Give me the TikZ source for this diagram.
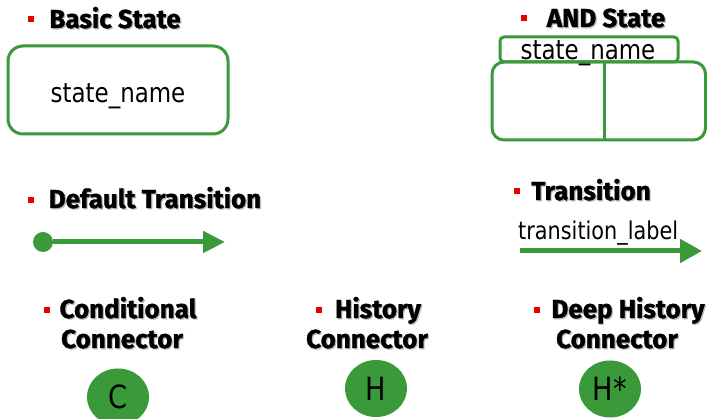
\documentclass[tikz,border=0pt]{standalone}
\usepackage{fontspec}
\usetikzlibrary{arrows.meta,shapes.geometric,calc}
\setmainfont[FakeStretch=0.85]{DejaVu Sans}
\newfontfamily\headfont[FakeBold=1.2]{Fira Sans}
\definecolor{stgreen}{RGB}{58,154,58}
\definecolor{bulletred}{RGB}{235,0,0}
\definecolor{shade}{RGB}{185,185,185}

\tikzset{
  headtext/.style={font=\headfont\bfseries\fontsize{26}{30}\selectfont, anchor=base, inner sep=0pt},
  headshade/.style={headtext, text=shade},
  bulletmark/.style={rectangle, fill=bulletred, minimum size=6.5pt, inner sep=0pt},
  statebox/.style={draw=stgreen, line width=3pt},
  bodytext/.style={font=\fontsize{27}{30}\selectfont, inner sep=0pt},
  connector/.style={ellipse, fill=stgreen, minimum width=62pt, minimum height=57pt, inner sep=0pt,
                    font=\fontsize{32}{34}\selectfont},
  flow/.style={draw=stgreen, line width=5pt},
}
% heading with a soft grey drop shadow: name, position, text
\newcommand{\headline}[3]{%
  \node[headshade] (#1s) at ($#2+(1.2,1.2)$) {#3};
  \node[headtext] (#1) at #2 {#3};
}

\begin{document}
\begin{tikzpicture}[x=1pt,y=-1pt]
\useasboundingbox (0,0) rectangle (707,419);

% --- headings ---
\node[bulletmark] (b1) at (31,19) {};
\headline{hbasic}{(115,28)}{Basic State}
\node[bulletmark] (b2) at (524,18) {};
\headline{hand}{(606,27)}{AND State}
\node[bulletmark] (b3) at (31,200) {};
\headline{hdefault}{(155,208)}{Default Transition}
\node[bulletmark] (b4) at (517,191) {};
\headline{htrans}{(591,200)}{Transition}
\node[bulletmark] (b5) at (47,310) {};
\headline{hcond}{(128,318)}{Conditional}
\headline{hcond2}{(122,348)}{Connector}
\node[bulletmark] (b6) at (319,310) {};
\headline{hhist}{(378,318)}{History}
\headline{hhist2}{(367,348)}{Connector}
\node[bulletmark] (b7) at (537,310) {};
\headline{hdeep}{(628,318)}{Deep History}
\headline{hdeep2}{(617,348)}{Connector}

% --- basic state ---
\draw[statebox, rounded corners=15pt] (8,46) rectangle (228,134);
\node[bodytext, anchor=base] (sname) at (118,103) {state\_name};

% --- AND state ---
\draw[statebox, rounded corners=12pt] (492,62) rectangle (705.5,140);
\draw[statebox] (604,62) -- (604,140);
\draw[statebox, rounded corners=4pt] (500,37) rectangle (678,62);
\node[bodytext, anchor=base] (aname) at (588,60) {state\_name};

% --- default transition ---
\node[circle, fill=stgreen, minimum size=20pt, inner sep=0pt] (dstart) at (43,242) {};
\coordinate (dend) at (225,242);
\draw[flow, -{Triangle[length=22pt,width=21pt]}] (dstart) -- (dend);

% --- transition ---
\node[bodytext, font=\fontsize{24.5}{28}\selectfont, anchor=base west] (tlabel) at (518,240) {transition\_label};
\coordinate (tstart) at (520,251);
\coordinate (tend) at (702,251);
\draw[flow, -{Triangle[length=22pt,width=23pt]}] (tstart) -- (tend);

% --- connectors ---
\node[connector] (cc) at (118,397) {C};
\node[connector] (hc) at (376,388.5) {H};
\node[connector] (dhc) at (610,389) {H*};
\end{tikzpicture}
\end{document}
